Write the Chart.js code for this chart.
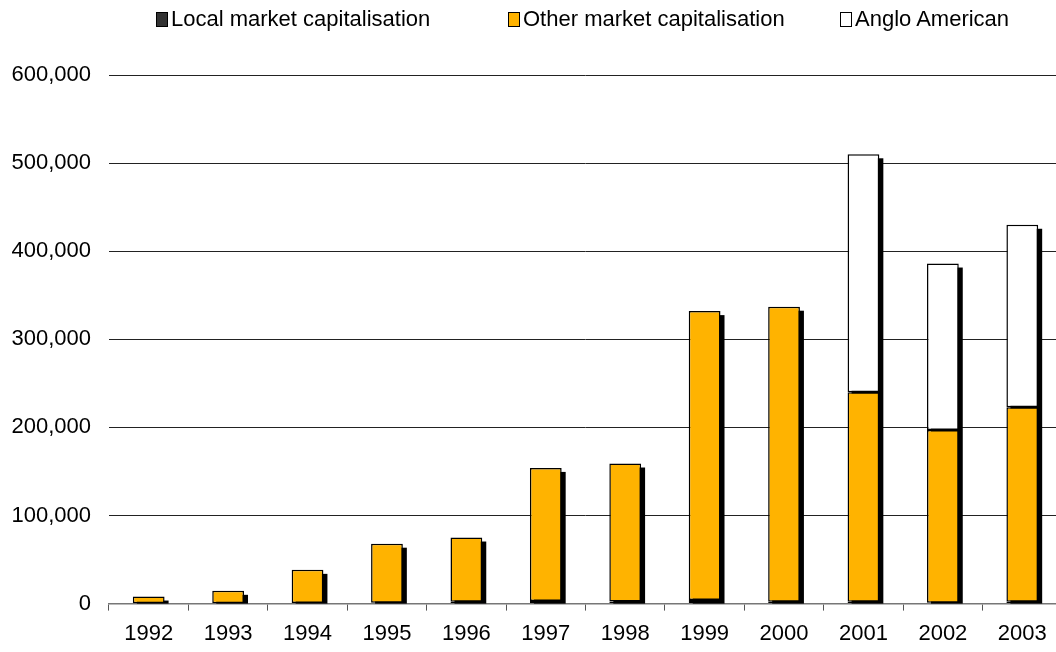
<!DOCTYPE html>
<html>
<head>
<meta charset="utf-8">
<script src="https://cdn.jsdelivr.net/npm/chart.js@4"></script>
<style>
  html, body { margin: 0; padding: 0; background: #fff; overflow: hidden; }
  #wrap { position: relative; width: 1056px; height: 652px; overflow: hidden; }
  .legend-item {
    position: absolute; top: 7px; height: 24px;
    font: 22px "Liberation Sans", Arial, sans-serif; color: #000;
    line-height: 24px; white-space: nowrap;
  }
  .legend-item span.box {
    display: inline-block; width: 10px; height: 13px;
    border: 1px solid #000; margin-right: 3px; vertical-align: -1px;
  }
</style>
</head>
<body>
<div id="wrap">
  <div class="legend-item" style="left:156px"><span class="box" style="background:#333333"></span>Local market capitalisation</div>
  <div class="legend-item" style="left:508px"><span class="box" style="background:#FFB300"></span>Other market capitalisation</div>
  <div class="legend-item" style="left:840px"><span class="box" style="background:#FFFFFF"></span>Anglo American</div>
  <canvas id="myChart" width="1062" height="657"></canvas>
</div>
<script>
'use strict';

// DATA //
const years = ["1992", "1993", "1994", "1995", "1996", "1997", "1998", "1999", "2000", "2001", "2002", "2003"];
const localCap = [500, 500, 800, 1000, 2000, 3000, 2500, 4000, 2000, 2000, 1000, 2000];
const otherCap = [7500, 14000, 37500, 67000, 73000, 151000, 156500, 328000, 335000, 238000, 196000, 221000];
const angloCap = [0, 0, 0, 0, 0, 0, 0, 0, 0, 270000, 189000, 207000];
const yTicks = [0, 100000, 200000, 300000, 400000, 500000, 600000];

const FONT = 'Liberation Sans, Arial, sans-serif';

// drop shadow behind each stacked column
const shadowPlugin = {
  id: 'barShadow',
  beforeDatasetsDraw(chart) {
    const ctx = chart.ctx;
    const y = chart.scales.y;
    const meta = chart.getDatasetMeta(1);
    ctx.save();
    ctx.fillStyle = '#000';
    meta.data.forEach(function(bar, i) {
      const total = localCap[i] + otherCap[i] + angloCap[i];
      const top = y.getPixelForValue(total);
      const bottom = y.getPixelForValue(0);
      const left = bar.x - bar.width / 2;
      ctx.fillRect(left + 4, top + 4, bar.width, bottom - top - 4);
    });
    ctx.restore();
  }
};

const ctx = document.getElementById('myChart').getContext('2d');

const chart = new Chart(ctx, {
  type: 'bar',
  data: {
    labels: years,
    datasets: [{
      label: "Local market capitalisation",
      backgroundColor: '#333333',
      borderColor: '#000000',
      data: localCap,
    },
    {
      label: "Other market capitalisation",
      backgroundColor: '#FFB300',
      borderColor: '#000000',
      data: otherCap,
    },
    {
      label: "Anglo American",
      backgroundColor: '#FFFFFF',
      borderColor: '#000000',
      data: angloCap,
    }]
  },
  options: {
    responsive: false,
    animation: false,
    devicePixelRatio: 1,
    layout: { padding: { left: 10, right: 0, top: 75, bottom: 0 } },
    datasets: {
      bar: {
        borderWidth: 1.5,
        borderSkipped: false,
        categoryPercentage: 1,
        barPercentage: 0.4,
      }
    },
    plugins: {
      legend: { display: false },
      tooltip: { enabled: false },
    },
    scales: {
      x: {
        stacked: true,
        grid: {
          offset: true,
          drawOnChartArea: false,
          drawTicks: true,
          tickLength: 7,
          color: '#555',
        },
        border: { display: true, color: '#777', width: 1.5 },
        ticks: {
          color: '#000',
          font: { family: FONT, size: 22 },
          padding: 10,
          maxRotation: 0,
        }
      },
      y: {
        stacked: true,
        min: 0,
        max: 600000,
        afterBuildTicks: function(axis) {
          axis.ticks = yTicks.map(function(v) { return { value: v }; });
        },
        afterFit: function(axis) {
          axis.width = 99;
        },
        grid: {
          drawTicks: false,
          color: '#222',
          lineWidth: 1,
        },
        border: { display: false },
        ticks: {
          color: '#000',
          font: { family: FONT, size: 22 },
          padding: 18,
          callback: function(v) { return Number(v).toLocaleString('en-US'); }
        }
      }
    }
  },
  plugins: [shadowPlugin]
});
</script>
</body>
</html>
